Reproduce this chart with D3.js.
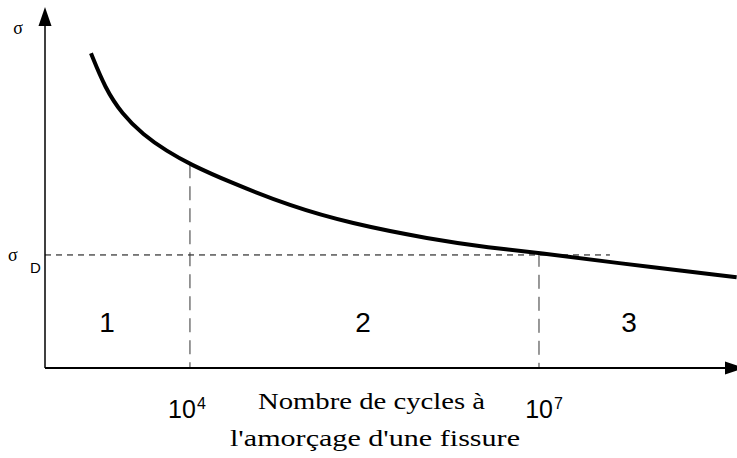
<!DOCTYPE html>
<html>
<head>
<meta charset="utf-8">
<script src="https://cdn.jsdelivr.net/npm/d3@7"></script>
<style>
  body { margin: 0; background: #fff; }
  svg { display: block; }
</style>
</head>
<body>
<svg id="chart"></svg>
<script>
// Wöhler curve (cycles, stress in arbitrary units)
const cycles = [1.41e3, 1.86e3, 2.6e3, 3.95e3, 6.34e3, 1e4, 2.21e4, 7.24e4,
  2.37e5, 1.16e6, 3.79e6, 1e7, 4.07e7, 5.0e8];
const stress = [437, 389, 353, 324, 301, 283, 258, 225,
  201, 179, 167, 160, 147, 126];

const sigmaD = 157;           // endurance limit
const sigmaDEnd = 4.07e7;     // where the dashed line stops
const tickCycles = [1e4, 1e7];
const tickExp = ["4", "7"];
const zones = ["1", "2", "3"];
const zoneCycles = [1.94e3, 3.07e5, 5.94e7];
const zoneStress = 50;
const xTitle = ["Nombre de cycles à", "l'amorçage d'une fissure"];

const width = 737, height = 458;
const svg = d3.select("#chart").attr("width", width).attr("height", height);

const x0 = 45, y0 = 368;
const x = d3.scaleLog().domain([Math.pow(10, 2.754), Math.pow(10, 8.702)]).range([x0, width]);
const y = d3.scaleLinear().domain([0, 500]).range([y0, 8]);

const pts = cycles.map((c, i) => [c, stress[i]]);

// dashed guides
svg.append("line")
  .attr("x1", x0).attr("x2", x(sigmaDEnd))
  .attr("y1", y(sigmaD)).attr("y2", y(sigmaD))
  .attr("stroke", "#000").attr("stroke-width", 1)
  .attr("stroke-dasharray", "6,5");

tickCycles.forEach(t => {
  const i = cycles.indexOf(t);
  svg.append("line")
    .attr("x1", x(t)).attr("x2", x(t))
    .attr("y1", y(stress[i])).attr("y2", y0)
    .attr("stroke", "#333").attr("stroke-width", 1)
    .attr("stroke-dasharray", "14,8");
});

// axes with arrows
svg.append("line")
  .attr("x1", x0).attr("x2", x0).attr("y1", y0).attr("y2", 20)
  .attr("stroke", "#000").attr("stroke-width", 1.5);
svg.append("path")
  .attr("d", `M${x0},7 L${x0 - 6.5},26 L${x0 + 6.5},26 Z`)
  .attr("fill", "#000");

svg.append("line")
  .attr("x1", x0).attr("x2", 730).attr("y1", y0).attr("y2", y0)
  .attr("stroke", "#000").attr("stroke-width", 2);
svg.append("path")
  .attr("d", `M744,${y0} L725,${y0 - 6.5} L725,${y0 + 6.5} Z`)
  .attr("fill", "#000");

// curve
const line = d3.line()
  .x(d => x(d[0]))
  .y(d => y(d[1]))
  .curve(d3.curveBasis);

svg.append("path")
  .datum(pts)
  .attr("d", line)
  .attr("fill", "none")
  .attr("stroke", "#000")
  .attr("stroke-width", 4);

// zone labels
svg.selectAll("text.zone")
  .data(zones)
  .join("text")
  .attr("class", "zone")
  .attr("x", (d, i) => x(zoneCycles[i]))
  .attr("y", y(zoneStress))
  .attr("text-anchor", "middle")
  .style("font-family", "Liberation Sans, Arial, sans-serif")
  .style("font-size", "28px")
  .text(d => d);

// tick labels 10^n
const tickShift = [-3, 5];
tickCycles.forEach((t, i) => {
  const tx = svg.append("text")
    .attr("x", x(t) + tickShift[i])
    .attr("y", 418)
    .attr("text-anchor", "middle")
    .style("font-family", "Liberation Sans, Arial, sans-serif")
    .style("font-size", "25px");
  tx.append("tspan").text("10");
  tx.append("tspan")
    .attr("dx", 1)
    .attr("dy", -9)
    .style("font-size", "16px")
    .text(tickExp[i]);
});

// axis title
const titleLen = [227, 290];
xTitle.forEach((s, i) => {
  svg.append("text")
    .attr("x", i === 0 ? 258 : 230)
    .attr("y", i === 0 ? 409 : 446)
    .attr("textLength", titleLen[i])
    .attr("lengthAdjust", "spacingAndGlyphs")
    .style("font-family", "Liberation Serif, Times New Roman, serif")
    .style("font-size", "24px")
    .text(s);
});

// y labels
svg.append("text")
  .attr("x", 18).attr("y", 34)
  .attr("text-anchor", "middle")
  .style("font-family", "Liberation Serif, serif")
  .style("font-size", "18px")
  .text("σ");

const sd = svg.append("text")
  .attr("x", 8).attr("y", 261)
  .style("font-family", "Liberation Serif, serif")
  .style("font-size", "18px");
sd.append("tspan").text("σ");
sd.append("tspan")
  .attr("x", 30).attr("y", 273)
  .style("font-family", "Liberation Sans, Arial, sans-serif")
  .style("font-size", "15px")
  .text("D");
</script>
</body>
</html>
